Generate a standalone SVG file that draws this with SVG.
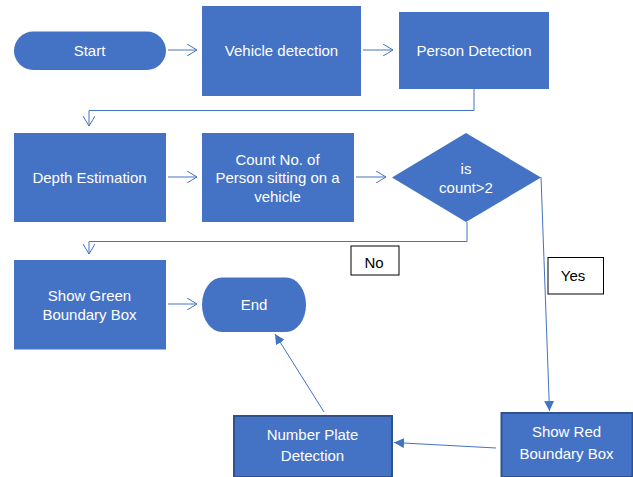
<svg xmlns="http://www.w3.org/2000/svg" width="633" height="477" viewBox="0 0 633 477">
<defs>
<marker id="open" viewBox="0 0 10 12" refX="10" refY="6" markerWidth="10" markerHeight="12" markerUnits="userSpaceOnUse" orient="auto">
<path d="M0,0 L10,6 L0,12" fill="none" stroke="#4472C4" stroke-width="1"/>
</marker>
<marker id="solid" viewBox="0 0 10 10" refX="10" refY="5" markerWidth="10" markerHeight="10" markerUnits="userSpaceOnUse" orient="auto">
<path d="M0,0 L10,5 L0,10 Z" fill="#4472C4"/>
</marker>
</defs>
<style>
.n{fill:#4472C4;}
.b{fill:#4472C4;stroke:#2F528F;stroke-width:2;}
.t{font-family:"Liberation Sans",Arial,sans-serif;font-size:15px;fill:#FFFFFF;text-anchor:middle;dominant-baseline:central;}
.lb{fill:#FFFFFF;stroke:#000000;stroke-width:1;}
.lt{font-family:"Liberation Sans",Arial,sans-serif;font-size:15px;fill:#000000;text-anchor:middle;dominant-baseline:central;}
.c{fill:none;stroke:#4472C4;stroke-width:1;}
</style>
<rect width="633" height="477" fill="#FFFFFF"/>
<g id="connectors">
<line class="c" x1="168" y1="50" x2="197" y2="50" marker-end="url(#open)"/>
<line class="c" x1="363" y1="50" x2="393" y2="50" marker-end="url(#open)"/>
<polyline class="c" points="474,89 474,110.5 89,110.5 89,126" marker-end="url(#open)"/>
<line class="c" x1="168" y1="177" x2="197" y2="177" marker-end="url(#open)"/>
<line class="c" x1="356" y1="177" x2="386" y2="177" marker-end="url(#open)"/>
<polyline class="c" points="467,222 467,241.5 89,241.5 89,254" marker-end="url(#open)"/>
<line class="c" x1="168" y1="304" x2="197" y2="304" marker-end="url(#open)"/>
<line class="c" x1="541" y1="177" x2="549.5" y2="411" marker-end="url(#solid)"/>
<line class="c" x1="496" y1="448" x2="394" y2="442.5" marker-end="url(#solid)"/>
<line class="c" x1="324" y1="412" x2="275" y2="334" marker-end="url(#solid)"/>
</g>
<g id="start">
<rect class="n" x="14" y="31.5" width="152" height="38.5" rx="19.25" ry="19.25"/>
<text class="t" x="89.5" y="50">Start</text>
</g>
<g id="vehicle-detection">
<rect class="n" x="202" y="6" width="159" height="90"/>
<text class="t" x="281.5" y="50">Vehicle detection</text>
</g>
<g id="person-detection">
<rect class="n" x="399" y="12" width="150" height="77"/>
<text class="t" x="474" y="50">Person Detection</text>
</g>
<g id="depth-estimation">
<rect class="n" x="14" y="133" width="152" height="89"/>
<text class="t" x="89.5" y="177">Depth Estimation</text>
</g>
<g id="count">
<rect class="n" x="202" y="133" width="152" height="89"/>
<text class="t" x="277.5" y="159">Count No. of</text>
<text class="t" x="277.5" y="177.5">Person sitting on a</text>
<text class="t" x="277.5" y="196">vehicle</text>
</g>
<g id="decision">
<polygon class="n" points="466,133 541,177.5 466,222 392,177.5"/>
<text class="t" x="466" y="168">is</text>
<text class="t" x="466" y="187.5">count&gt;2</text>
</g>
<g id="label-no">
<rect class="lb" x="351" y="246" width="48" height="29"/>
<text class="lt" x="374" y="262.5">No</text>
</g>
<g id="label-yes">
<rect class="lb" x="548" y="257.5" width="55.5" height="36.5"/>
<text class="lt" x="573" y="275.5">Yes</text>
</g>
<g id="show-green">
<rect class="n" x="14" y="260" width="152" height="89.5"/>
<text class="t" x="89.5" y="295">Show Green</text>
<text class="t" x="89.5" y="314">Boundary Box</text>
</g>
<g id="end">
<rect class="n" x="202" y="277.5" width="104" height="54.5" rx="20" ry="27"/>
<text class="t" x="254" y="304">End</text>
</g>
<g id="number-plate">
<rect class="b" x="234" y="416" width="158" height="61"/>
<text class="t" x="312.5" y="434">Number Plate</text>
<text class="t" x="312.5" y="455.5">Detection</text>
</g>
<g id="show-red">
<rect class="b" x="501.5" y="413" width="131" height="64"/>
<text class="t" x="566.5" y="431">Show Red</text>
<text class="t" x="566.5" y="453.5">Boundary Box</text>
</g>
</svg>
